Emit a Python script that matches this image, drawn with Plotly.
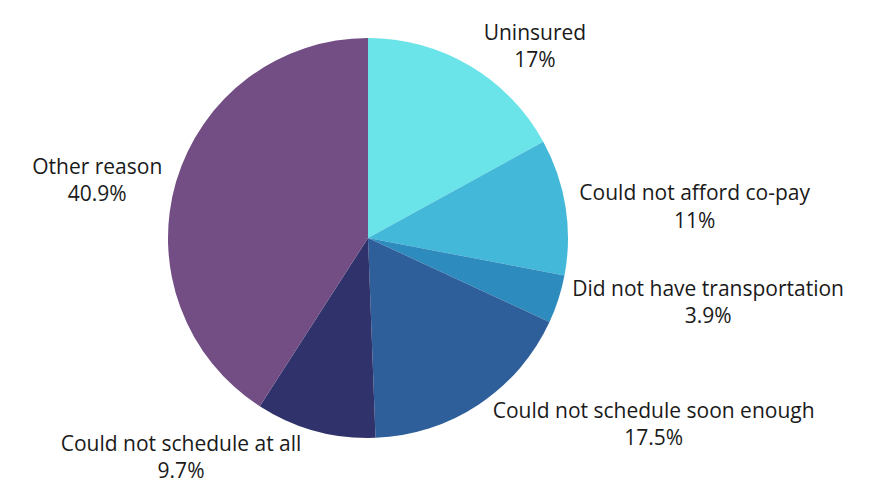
import plotly.graph_objects as go

labels = ["Uninsured", "Could not afford co-pay", "Did not have transportation",
          "Could not schedule soon enough", "Could not schedule at all", "Other reason"]
values = [17, 11, 3.9, 17.5, 9.7, 40.9]
colors = ["#6AE4E8", "#43B8D8", "#2E8BBE", "#2E5F9A", "#30336B", "#724E84"]

fig = go.Figure(go.Pie(
    labels=labels, values=values, sort=False, direction="clockwise", rotation=0,
    marker=dict(colors=colors, line=dict(width=0)),
    textinfo="label+percent", textposition="outside",
    texttemplate="%{label}<br>%{value}%",
    textfont=dict(family="Open Sans", size=21, color="#1a1a1a"),
    showlegend=False, hoverinfo="label+percent",
    domain=dict(x=[160/869, 560/869], y=[1-430/495, 1-30/495]),
))
fig.update_layout(width=869, height=495, margin=dict(l=0, r=0, t=0, b=0),
                  paper_bgcolor="white", plot_bgcolor="white")
fig.write_html("out.html")
